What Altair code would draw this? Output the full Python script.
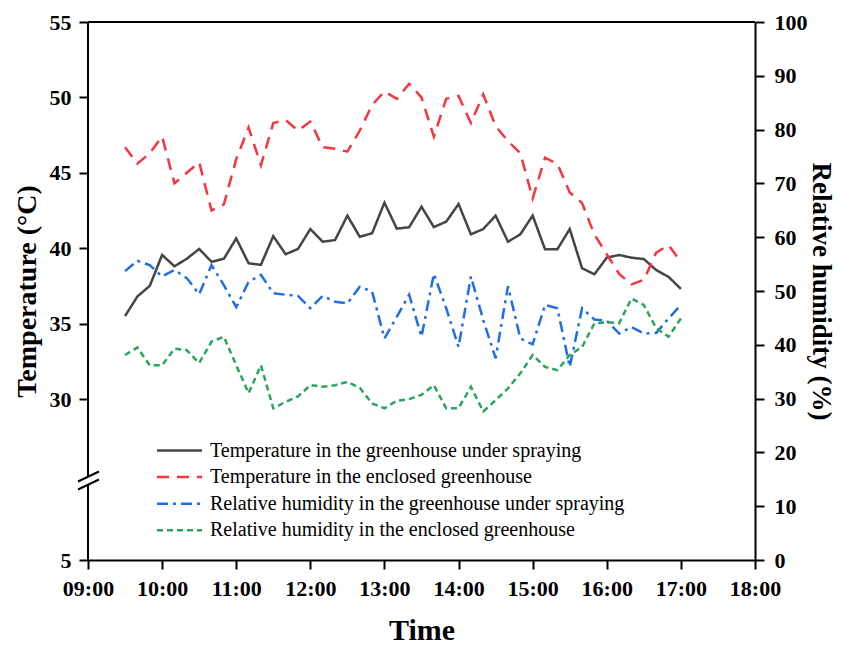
import altair as alt
import pandas as pd

times = ["09:30", "09:40", "09:50", "10:00", "10:10", "10:20", "10:30", "10:40", "10:50",
         "11:00", "11:10", "11:20", "11:30", "11:40", "11:50", "12:00", "12:10", "12:20",
         "12:30", "12:40", "12:50", "13:00", "13:10", "13:20", "13:30", "13:40", "13:50",
         "14:00", "14:10", "14:20", "14:30", "14:40", "14:50", "15:00", "15:10", "15:20",
         "15:30", "15:40", "15:50", "16:00", "16:10", "16:20", "16:30", "16:40", "16:50",
         "17:00"]

temp_spray = [35.5, 36.8, 37.5, 39.55, 38.8, 39.3, 39.95, 39.1, 39.3, 40.65, 39.0, 38.9,
              40.8, 39.6, 39.95, 41.27, 40.43, 40.54, 42.16, 40.76, 40.99, 43.02, 41.3,
              41.39, 42.75, 41.4, 41.76, 42.93, 40.92, 41.27, 42.16, 40.43, 40.92, 42.16,
              39.93, 39.93, 41.27, 38.67, 38.27, 39.37, 39.55, 39.37, 39.28, 38.55, 38.1,
              37.3]

temp_enclosed = [46.7, 45.6, 46.3, 47.4, 44.3, 45.0, 45.7, 42.5, 42.9, 45.9, 48.0, 45.5,
                 48.3, 48.5, 47.8, 48.4, 46.7, 46.6, 46.4, 47.8, 49.5, 50.4, 49.9, 50.9,
                 50.0, 47.4, 49.9, 50.1, 48.3, 50.2, 48.1, 47.1, 46.3, 43.3, 46.0, 45.6,
                 43.7, 43.0, 40.9, 39.6, 38.3, 37.6, 37.9, 39.7, 40.2, 39.1]

rh_spray = [53.7, 55.6, 54.8, 52.7, 53.9, 52.4, 49.4, 54.8, 51.1, 47.0, 51.7, 53.0, 49.6,
            49.3, 49.1, 46.8, 49.1, 48.0, 47.7, 50.8, 49.9, 41.2, 45.2, 49.3, 41.5, 53.2,
            46.8, 39.6, 52.7, 44.6, 37.5, 50.9, 41.2, 40.1, 47.4, 46.8, 35.9, 46.8, 44.7,
            44.5, 42.1, 43.3, 42.1, 42.2, 44.9, 47.4]

rh_enclosed = [38.1, 39.5, 36.2, 36.2, 39.3, 39.0, 36.6, 40.6, 41.5, 36.2, 31.0, 36.2,
               28.2, 29.4, 30.4, 32.5, 32.2, 32.5, 33.1, 32.0, 29.1, 28.2, 29.6, 29.9,
               30.7, 32.5, 28.2, 28.2, 32.2, 27.6, 29.7, 31.9, 34.7, 38.1, 35.9, 35.3,
               38.1, 39.6, 44.0, 44.2, 44.0, 48.6, 47.4, 43.1, 41.5, 44.9]

series_names = ["Temperature in the greenhouse under spraying",
                "Temperature in the enclosed greenhouse",
                "Relative humidity in the greenhouse under spraying",
                "Relative humidity in the enclosed greenhouse"]
series_colors = ["#454545", "#f5353f", "#1f6fe3", "#2aa55c"]
series_dashes = [[1, 0], [12, 8], [11, 5, 3, 5], [6, 4]]

temp_ticks = [5, 30, 35, 40, 45, 50, 55]
temp_breaks = [5, 30, 55]
rh_ticks = list(range(0, 101, 10))
hours = list(range(9, 19))

DAY = "2020-01-01 "
W, H = 667, 538
SERIF = "Liberation Serif"
LABEL_SIZE = 22
TITLE_SIZE = 28


def dt(h):
    return alt.DateTime(year=2020, month=1, date=1, hours=h)


n = len(times)
temp_df = pd.DataFrame({
    "time": pd.to_datetime([DAY + t for t in times] * 2),
    "value": temp_spray + temp_enclosed,
    "series": [series_names[0]] * n + [series_names[1]] * n,
})
rh_df = pd.DataFrame({
    "time": pd.to_datetime([DAY + t for t in times] * 2),
    "value": rh_spray + rh_enclosed,
    "series": [series_names[2]] * n + [series_names[3]] * n,
})

# wide horizontal line symbol (2.5x wider than the nominal symbol box)
legend = alt.Legend(orient="none", legendX=81, legendY=418, title=None,
                    symbolType="M-2.5,0H2.5", symbolSize=324, symbolStrokeWidth=2.5,
                    symbolFillColor="transparent",
                    labelFont=SERIF, labelFontSize=20, labelColor="black",
                    labelOffset=20, rowPadding=5.6, labelLimit=700)
color = alt.Color("series:N", scale=alt.Scale(domain=series_names, range=series_colors),
                  legend=legend, sort=series_names)
dash = alt.StrokeDash("series:N", scale=alt.Scale(domain=series_names, range=series_dashes),
                      legend=legend, sort=series_names)

x_axis = alt.Axis(values=[dt(h) for h in hours], format="%H:%M", title="Time",
                  labelFlush=False, labelOverlap=False,
                  domain=True, domainColor="black", domainWidth=2,
                  ticks=True, tickColor="black", tickWidth=2, tickSize=9,
                  labelFont=SERIF, labelFontWeight="bold", labelFontSize=LABEL_SIZE,
                  labelColor="black", labelPadding=9,
                  titleFont=SERIF, titleFontWeight="bold", titleFontSize=30,
                  titleColor="black", titlePadding=16, grid=False)
x_enc = alt.X("time:T", scale=alt.Scale(domain=[dt(9), dt(18)]), axis=x_axis)

temp_layer = alt.Chart(temp_df).mark_line(strokeWidth=2.5).encode(
    x=x_enc,
    y=alt.Y("value:Q",
            scale=alt.Scale(domain=temp_breaks, range=[H, 377, 0], nice=False, zero=False),
            axis=alt.Axis(values=temp_ticks, orient="left", title="Temperature (°C)",
                          labelFlush=False, labelOverlap=False,
                          domain=False, ticks=True, tickColor="black", tickWidth=2,
                          tickSize=9, labelFont=SERIF, labelFontWeight="bold",
                          labelFontSize=LABEL_SIZE, labelColor="black", labelPadding=8,
                          titleFont=SERIF, titleFontWeight="bold", titleFontSize=TITLE_SIZE,
                          titleColor="black", titlePadding=8, grid=False)),
    color=color,
    strokeDash=dash,
)

rh_layer = alt.Chart(rh_df).mark_line(strokeWidth=2.5).encode(
    x=x_enc,
    y=alt.Y("value:Q",
            scale=alt.Scale(domain=[0, 100], nice=False, zero=False),
            axis=alt.Axis(values=rh_ticks, orient="right", title="Relative humidity (%)",
                          labelFlush=False, labelOverlap=False,
                          domain=True, domainColor="black", domainWidth=2,
                          ticks=True, tickColor="black", tickWidth=2, tickSize=9,
                          labelFont=SERIF, labelFontWeight="bold", labelFontSize=LABEL_SIZE,
                          labelColor="black", labelPadding=10,
                          titleFont=SERIF, titleFontWeight="bold", titleFontSize=27,
                          titleColor="black", titlePadding=-1, grid=False)),
    color=color,
    strokeDash=dash,
)

one = pd.DataFrame({"k": [0]})
rule_style = dict(color="black", strokeWidth=2)
left_top = alt.Chart(one).mark_rule(**rule_style).encode(
    x=alt.value(0), y=alt.value(0), y2=alt.value(455))
left_bottom = alt.Chart(one).mark_rule(**rule_style).encode(
    x=alt.value(0), y=alt.value(462), y2=alt.value(H))
slash1 = alt.Chart(one).mark_rule(**rule_style).encode(
    x=alt.value(-10), x2=alt.value(11), y=alt.value(459.5), y2=alt.value(449.5))
slash2 = alt.Chart(one).mark_rule(**rule_style).encode(
    x=alt.value(-10), x2=alt.value(11), y=alt.value(467.5), y2=alt.value(457.5))
top_border = alt.Chart(one).mark_rule(**rule_style).encode(
    x=alt.value(0), x2=alt.value(W), y=alt.value(0))

chart = alt.layer(
    temp_layer, rh_layer, left_top, left_bottom, slash1, slash2, top_border
).resolve_scale(
    y="independent"
).properties(
    width=W, height=H,
    autosize=alt.AutoSizeParams(type="none"),
    padding={"left": 80, "top": 14, "right": 83, "bottom": 85},
    background="white",
).configure_view(stroke=None)

chart.save("out.html", embed_options={"renderer": "svg", "actions": False})
